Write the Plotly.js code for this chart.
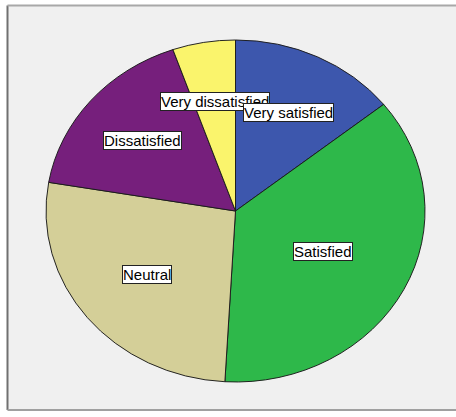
<!DOCTYPE html>
<html>
<head>
<meta charset="utf-8">
<script src="https://cdn.plot.ly/plotly-3.0.1.min.js"></script>
<style>
  html, body { margin: 0; padding: 0; background: #ffffff; }
  #chart { width: 456px; height: 417px; }
</style>
</head>
<body>
<div id="chart"></div>
<script>
// ---- data ----
const categories = ["Very satisfied", "Satisfied", "Neutral", "Dissatisfied", "Very dissatisfied"];
const counts = [16, 41, 30, 19, 6];
const sliceColors = ["#3d57ad", "#2eb84a", "#d4cf98", "#761f7c", "#faf46c"];

// ---- layout / styling ----
const W = 456, H = 417;
const cx = 235.5, cy = 211;      // pie centre (px)
const rx = 189.5, ry = 171;      // pie radii (px) - slightly elliptical like the original
const labelRadius = [0.64, 0.52, 0.6, 0.64, 0.65]; // fraction of radius where each label sits

const trace = {
  type: "pie",
  labels: categories,
  values: counts,
  sort: false,
  direction: "clockwise",
  rotation: 0,
  textinfo: "none",
  hoverinfo: "label+value+percent",
  marker: { colors: sliceColors, line: { color: "#1a1a1a", width: 1 } },
  domain: { x: [(cx - rx) / W, (cx + rx) / W], y: [1 - (cy + rx) / H, 1 - (cy - rx) / H] },
  showlegend: false
};

// label positions derived from the slice mid-angles
const total = counts.reduce((a, b) => a + b, 0);
let cum = 0;
const anns = [];
counts.forEach((v, i) => {
  const mid = (cum + v / 2) / total * 2 * Math.PI;
  cum += v;
  const px = cx + labelRadius[i] * rx * Math.sin(mid);
  const py = cy - labelRadius[i] * ry * Math.cos(mid);
  anns.push({
    xref: "paper", yref: "paper", x: px / W, y: 1 - py / H,
    xanchor: "center", yanchor: "middle",
    text: categories[i], showarrow: false,
    font: { family: "Liberation Sans, Arial, sans-serif", size: 15, color: "#000" },
    bgcolor: "#ffffff", bordercolor: "#222222", borderwidth: 1, borderpad: 0
  });
});
anns.reverse(); // first category drawn last (on top)

const fx0 = 7.5 / W, fy0 = 1 - 410 / H, fy1 = 1 - 5.5 / H;
const layout = {
  width: W, height: H,
  margin: { l: 0, r: 0, t: 0, b: 0 },
  paper_bgcolor: "#ffffff",
  showlegend: false,
  shapes: [
    { type: "rect", xref: "paper", yref: "paper", layer: "below",
      x0: fx0, x1: 1, y0: fy0, y1: fy1, fillcolor: "#f0f0f0", line: { width: 0 } },
    { type: "line", xref: "paper", yref: "paper", layer: "below",
      x0: fx0, x1: fx0, y0: fy0, y1: fy1, line: { color: "#707070", width: 2 } },
    { type: "line", xref: "paper", yref: "paper", layer: "below",
      x0: fx0, x1: 1, y0: fy1, y1: fy1, line: { color: "#a8a8a8", width: 2 } },
    { type: "line", xref: "paper", yref: "paper", layer: "below",
      x0: fx0, x1: 1, y0: fy0, y1: fy0, line: { color: "#a0a0a0", width: 2 } }
  ],
  annotations: anns
};

Plotly.newPlot("chart", [trace], layout, { displayModeBar: false, staticPlot: true }).then(gd => {
  const pl = gd.querySelector(".pielayer");
  if (pl) {
    pl.style.transformOrigin = cx + "px " + cy + "px";
    pl.style.transform = "scale(1," + (ry / rx) + ")";
  }
});
</script>
</body>
</html>
